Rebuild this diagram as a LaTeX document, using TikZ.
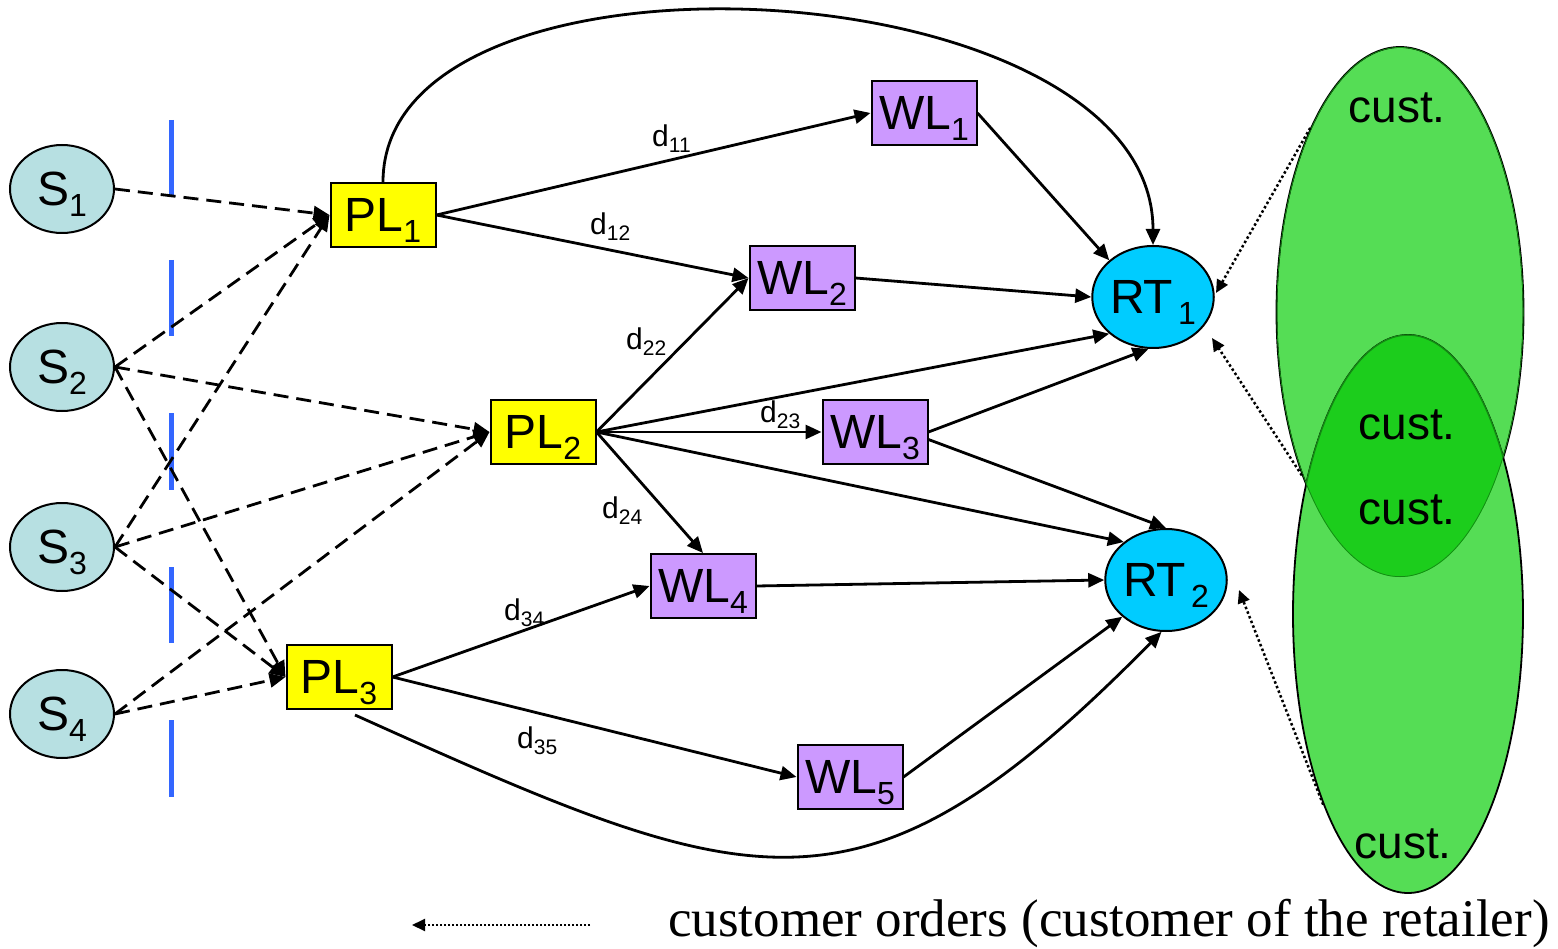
\documentclass[tikz,border=0pt]{standalone}
\usepackage{fontspec}
\setmainfont{Liberation Sans}
\newfontfamily\legserif{Liberation Serif}
\usetikzlibrary{arrows.meta,shapes.geometric}
\definecolor{sfill}{HTML}{B7E0E2}
\definecolor{wlfill}{HTML}{CC99FF}
\definecolor{rtfill}{HTML}{00CCFF}
\definecolor{plfill}{HTML}{FFFF00}
\definecolor{lgreen}{HTML}{55DD55}
\definecolor{dgreen}{HTML}{1CCD1C}
\definecolor{ogreen}{HTML}{138A13}
\definecolor{barblue}{HTML}{3366FF}
\newcommand\nsub[1]{\raisebox{-11pt}[0pt][0pt]{\fontsize{32}{32}\selectfont #1}}
\newcommand\dsub[1]{d\raisebox{-6pt}[0pt][0pt]{\fontsize{21}{21}\selectfont #1}}
\begin{document}
\begin{tikzpicture}[x=1pt,y=-1pt,
  lab/.style={font=\fontsize{48}{50}\selectfont, inner sep=0pt},
  snode/.style={lab, ellipse, draw=black, line width=2pt, fill=sfill, minimum width=104pt, minimum height=88pt},
  plnode/.style={lab, rectangle, draw=black, line width=2pt, fill=plfill, minimum width=105pt, minimum height=64pt},
  wlnode/.style={lab, rectangle, draw=black, line width=2pt, fill=wlfill, minimum width=105pt, minimum height=64pt},
  rtnode/.style={lab, ellipse, draw=black, line width=2pt, fill=rtfill, minimum width=120pt, minimum height=102pt},
  custset/.style={ellipse, draw=black, line width=1.8pt, fill=lgreen, inner sep=0pt},
  custlab/.style={font=\fontsize{46}{48}\selectfont, inner sep=0pt},
  conn/.style={line width=2.8pt, -{Triangle[length=16pt,width=14pt]}},
  dsh/.style={conn, dash pattern=on 15pt off 8pt},
  dotted arrow/.style={line width=2.5pt, dash pattern=on 2.5pt off 2.5pt, -{Triangle[length=13pt,width=12pt]}},
  dlab/.style={anchor=base west, inner sep=0pt, font=\fontsize{30}{30}\selectfont},
  bar/.style={line width=5pt, draw=barblue}
]
\useasboundingbox (0,0) rectangle (1558,949);

% customer sets
\node[custset, minimum width=247pt, minimum height=530pt] (C1) at (1400,312) {};
\node[custset, minimum width=230pt, minimum height=558pt] (C2) at (1408,614) {};
\begin{scope}
  \clip (1400,312) ellipse [x radius=123.5pt, y radius=265pt];
  \fill[dgreen] (1408,614) ellipse [x radius=115pt, y radius=279pt];
  \draw[ogreen, line width=1.5pt] (1408,614) ellipse [x radius=115pt, y radius=279pt];
  \draw[ogreen, line width=1.5pt] (1400,312) ellipse [x radius=123.5pt, y radius=265pt];
\end{scope}
\node[custlab] (c1) at (1397,108) {cust.};
\node[custlab] (c2) at (1407,425) {cust.};
\node[custlab] (c3) at (1407,510) {cust.};
\node[custlab] (c4) at (1403,844) {cust.};

% blue bars
\draw[bar] (171,120) -- (171,195);
\draw[bar] (171,260) -- (171,336);
\draw[bar] (171,413) -- (171,490);
\draw[bar] (171,567) -- (171,643);
\draw[bar] (171,720) -- (171,797);

% suppliers
\node[snode] (S1) at (62,189) {S\nsub{1}};
\node[snode] (S2) at (62,367) {S\nsub{2}};
\node[snode] (S3) at (62,547) {S\nsub{3}};
\node[snode] (S4) at (62,714) {S\nsub{4}};

% plants
\node[plnode] (PL1) at (383,215) {PL\nsub{1}};
\node[plnode] (PL2) at (543,432) {PL\nsub{2}};
\node[plnode] (PL3) at (339,677) {PL\nsub{3}};

% warehouses
\node[wlnode] (WL1) at (924,113) {WL\nsub{1}};
\node[wlnode] (WL2) at (802,278) {WL\nsub{2}};
\node[wlnode] (WL3) at (875,432) {WL\nsub{3}};
\node[wlnode] (WL4) at (703,586) {WL\nsub{4}};
\node[wlnode] (WL5) at (850,777) {WL\nsub{5}};

% retailers
\node[rtnode] (RT1) at (1153,297) {RT\kern5pt\nsub{1}};
\node[rtnode] (RT2) at (1166,580) {RT\kern5pt\nsub{2}};

% dashed supply links
\draw[dsh] (S1.east) -- (PL1.west);
\draw[dsh] (S2.east) -- (PL1.west);
\draw[dsh] (S3.east) -- (PL1.west);
\draw[dsh] (S2.east) -- (PL2.west);
\draw[dsh] (S3.east) -- (PL2.west);
\draw[dsh] (S4.east) -- (PL2.west);
\draw[dsh] (S2.east) -- (PL3.west);
\draw[dsh] (S3.east) -- (PL3.west);
\draw[dsh] (S4.east) -- (PL3.west);

% plant to warehouse
\draw[conn] (PL1.east) -- (WL1.west);
\draw[conn] (PL1.east) -- (WL2.west);
\draw[conn] (PL2.east) -- (WL2.west);
\draw[conn] (PL2.east) -- (WL3.west);
\draw[conn] (PL2.east) -- (WL4.north);
\draw[conn] (PL3.east) -- (WL4.west);
\draw[conn] (PL3.east) -- (WL5.west);

% plant to retailer
\draw[conn] (PL2.east) -- (RT1.220);
\draw[conn] (PL2.east) -- (RT2.138);
\draw[conn] (PL1.north) .. controls (383,-75) and (1153,-35) .. (RT1.north);
\coordinate (p3s) at (355,715);
\draw[conn] (p3s) .. controls (755,895) and (860,938) .. (RT2.265);

% warehouse to retailer
\draw[conn] (WL1.east) -- (RT1.140);
\draw[conn] (WL2.east) -- (RT1.west);
\draw[conn] (WL3.east) -- (RT1.265);
\draw[conn] (WL3.-8) -- (RT2.north);
\draw[conn] (WL4.east) -- (RT2.west);
\draw[conn] (WL5.east) -- (RT2.220);

% distance labels
\node[dlab] (d11) at (652,147) {\dsub{11}};
\node[dlab] (d12) at (590,235) {\dsub{12}};
\node[dlab] (d22) at (626,350) {\dsub{22}};
\node[dlab] (d23) at (760,422) {\dsub{23}};
\node[dlab] (d24) at (602,518) {\dsub{24}};
\node[dlab] (d34) at (504,620) {\dsub{34}};
\node[dlab] (d35) at (517,748) {\dsub{35}};

% customer orders
\coordinate (r1a) at (1216,293);
\coordinate (r1b) at (1212,338);
\coordinate (r2a) at (1239,590);
\draw[dotted arrow] (C1.116) -- (r1a);
\draw[dotted arrow] (C1.239) -- (r1b);
\draw[dotted arrow] (C2.246) -- (r2a);

% legend
\coordinate (legA) at (590,925);
\coordinate (legB) at (412,925);
\draw[dotted arrow, line width=2pt, dash pattern=on 2pt off 2pt] (legA) -- (legB);
\node[anchor=base west, inner sep=0pt, font=\legserif\fontsize{53}{55}\selectfont] (leg) at (668,936) {customer orders (customer of the retailer)};
\end{tikzpicture}
\end{document}
